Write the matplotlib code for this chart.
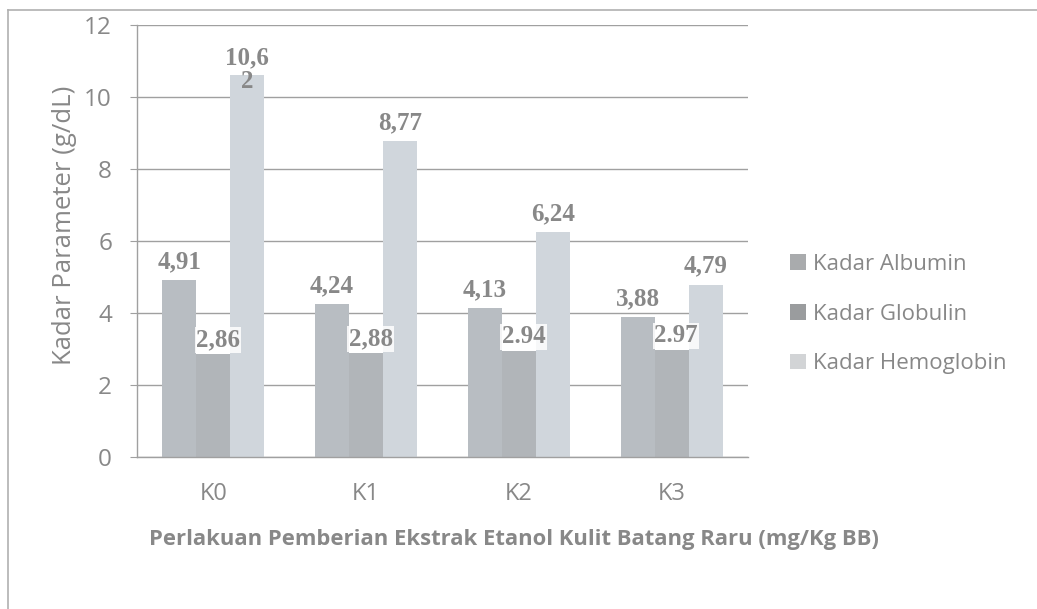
"""Grouped bar chart of albumin, globulin and hemoglobin levels per treatment group."""
import matplotlib
matplotlib.use("Agg")
import matplotlib.pyplot as plt
import numpy as np
from matplotlib.lines import Line2D
from matplotlib.patches import Patch

groups = ["K0", "K1", "K2", "K3"]
series_names = ["Kadar Albumin", "Kadar Globulin", "Kadar Hemoglobin"]
albumin = [4.91, 4.24, 4.13, 3.88]
globulin = [2.86, 2.88, 2.94, 2.97]
hemoglobin = [10.62, 8.77, 6.24, 4.79]
albumin_labels = ["4,91", "4,24", "4,13", "3,88"]
globulin_labels = ["2,86", "2,88", "2.94", "2.97"]
hemoglobin_labels = ["10,6\n2", "8,77", "6,24", "4,79"]
y_ticks = [0, 2, 4, 6, 8, 10, 12]

bar_colors = ["#b8bdc2", "#b1b5b9", "#d0d6dc"]
legend_colors = ["#a9abad", "#9a9c9e", "#d2d4d6"]
text_gray = "#888888"
line_gray = "#a0a0a0"

fig = plt.figure(figsize=(10.37, 6.09), dpi=100)
ax = fig.add_axes([137 / 1037, 1 - 457 / 609, (748 - 137) / 1037, (457 - 25) / 609])

x = np.arange(len(groups))
width = 1 / 4.5
all_values = [albumin, globulin, hemoglobin]
for i, (vals, color) in enumerate(zip(all_values, bar_colors)):
    ax.bar(x + (i - 1) * width, vals, width=width, color=color, zorder=2)

label_font = dict(family="Liberation Serif", fontsize=18, fontweight="bold", color=text_gray)

# albumin and hemoglobin values sit above their bars
for vals, labels, off in [(albumin, albumin_labels, -1), (hemoglobin, hemoglobin_labels, 1)]:
    for xi, v, lab in zip(x, vals, labels):
        if "\n" in lab:
            ax.text(xi + off * width, v - 0.5, lab, ha="center", va="bottom",
                    linespacing=1.0, zorder=4, **label_font)
        else:
            ax.annotate(lab, (xi + off * width, v), xytext=(0, 5), textcoords="offset points",
                        ha="center", va="bottom", zorder=4, **label_font)

# globulin values get a white box since they overlap the neighbouring bars
for xi, v, lab in zip(x, globulin, globulin_labels):
    ax.annotate(lab, (xi + 0.03, v), xytext=(0, 2), textcoords="offset points",
                ha="center", va="bottom", zorder=4,
                bbox=dict(boxstyle="square,pad=0.05", fc="white", ec="none", alpha=0.85),
                **label_font)

ax.set_ylim(0, 12)
ax.set_xlim(-0.5, len(groups) - 0.5)
ax.set_yticks(y_ticks)
ax.set_xticks(x)
ax.set_xticklabels(groups)
ax.grid(axis="y", color=line_gray, linewidth=1.0, zorder=0)
ax.set_axisbelow(True)
for side in ["top", "right"]:
    ax.spines[side].set_visible(False)
for side in ["left", "bottom"]:
    ax.spines[side].set_color(line_gray)
    ax.spines[side].set_linewidth(1.0)
ax.tick_params(axis="y", length=5, color=line_gray, labelcolor=text_gray, labelsize=17.5, pad=13)
ax.tick_params(axis="x", length=0, labelcolor=text_gray, labelsize=17, pad=18)
for lab in ax.get_xticklabels() + ax.get_yticklabels():
    lab.set_family("Open Sans")

fig.text(65 / 1037, 1 - 225 / 609, "Kadar Parameter (g/dL)", rotation=90, ha="center", va="center",
         family="Open Sans", fontsize=18.5, color=text_gray)
fig.text(514 / 1037, 1 - 540 / 609, "Perlakuan Pemberian Ekstrak Etanol Kulit Batang Raru (mg/Kg BB)",
         ha="center", va="center", family="Open Sans", fontsize=15.8, fontweight="bold", color=text_gray)

handles = [Patch(facecolor=c, edgecolor="none") for c in legend_colors]
fig.legend(handles, series_names, loc="center left", bbox_to_anchor=(770 / 1037, 1 - 314 / 609),
           frameon=False, handlelength=0.7, handleheight=0.7, handletextpad=0.35,
           labelspacing=1.3, prop=dict(family="Open Sans", size=16), labelcolor=text_gray)

# chart area border, only top and left edges are within the frame
fig.add_artist(Line2D([8 / 1037, 1.0], [1 - 10 / 609, 1 - 10 / 609], transform=fig.transFigure,
                      color="#b0b0b0", linewidth=1.2))
fig.add_artist(Line2D([8 / 1037, 8 / 1037], [0.0, 1 - 10 / 609], transform=fig.transFigure,
                      color="#b0b0b0", linewidth=1.2))

fig.savefig("out.png", dpi=100, facecolor="white")
